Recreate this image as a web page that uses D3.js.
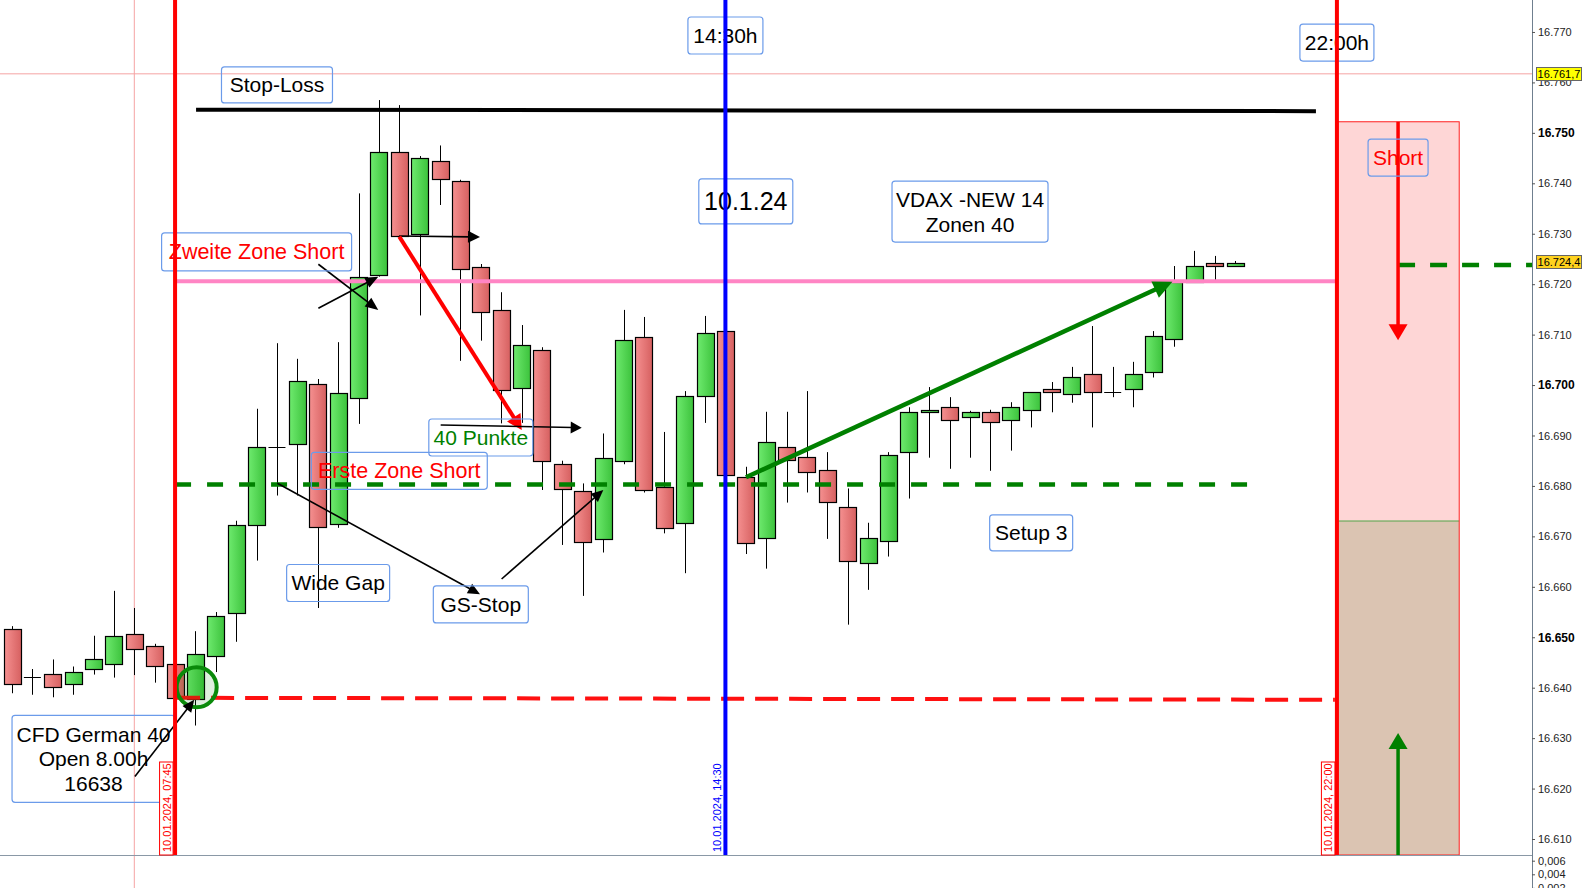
<!DOCTYPE html>
<html><head><meta charset="utf-8">
<script src="https://cdn.jsdelivr.net/npm/d3@7"></script>
<style>html,body{margin:0;padding:0;background:#fff;overflow:hidden}svg{display:block;font-family:"Liberation Sans",Arial,sans-serif}</style>
</head><body><svg id="c" width="1583" height="888"></svg>
<script>
// ---------- DATA ----------
const times = ["05:45","06:00","06:15","06:30","06:45","07:00","07:15","07:30","07:45","08:00",
"08:15","08:30","08:45","09:00","09:15","09:30","09:45","10:00","10:15","10:30",
"10:45","11:00","11:15","11:30","11:45","12:00","12:15","12:30","12:45","13:00",
"13:15","13:30","13:45","14:00","14:15","14:30","14:45","15:00","15:15","15:30",
"15:45","16:00","16:15","16:30","16:45","17:00","17:15","17:30","17:45","18:00",
"18:15","18:30","18:45","19:00","19:15","19:30","19:45","20:00","20:15","20:30","20:45"];
const opens = [16651.6,16642.1,16642.7,16640.7,16643.6,16644.6,16650.6,16648.2,16644.6,16637.8,
16646.2,16654.8,16672.2,16687.7,16688.3,16700.2,16672.4,16697.4,16722.0,16746.3,
16729.9,16744.4,16740.4,16723.4,16714.8,16699.4,16706.9,16684.3,16678.9,16669.5,
16684.9,16709.5,16679.7,16672.6,16697.8,16710.7,16681.7,16669.6,16687.7,16685.7,
16683.1,16675.8,16664.7,16669.0,16686.7,16694.6,16695.6,16693.6,16694.6,16693.0,
16695.0,16699.2,16698.2,16702.1,16698.6,16699.2,16702.5,16709.1,16720.5,16724.1,16723.5];
const highs = [16652.2,16643.7,16645.6,16644.2,16650.3,16659.2,16655.8,16648.7,16645.2,16651.2,
16655.0,16673.1,16695.3,16708.3,16705.2,16701.2,16708.5,16738.0,16756.5,16755.5,
16745.4,16747.5,16740.7,16724.0,16718.4,16711.9,16707.5,16685.0,16680.5,16690.4,
16714.9,16713.5,16690.7,16698.8,16713.7,16710.9,16683.8,16694.7,16694.7,16698.8,
16686.7,16679.5,16672.7,16686.7,16695.6,16699.6,16697.6,16694.9,16695.1,16696.6,
16698.6,16700.6,16703.6,16711.7,16703.6,16704.6,16710.7,16723.6,16726.6,16725.6,16724.6];
const lows = [16638.9,16638.6,16638.1,16638.6,16642.6,16642.0,16642.5,16641.0,16637.5,16632.5,
16643.1,16649.1,16665.2,16678.1,16678.1,16655.8,16671.7,16692.3,16721.5,16729.4,
16713.8,16735.7,16704.8,16708.8,16692.4,16692.5,16679.2,16668.3,16658.2,16666.8,
16684.3,16678.7,16670.6,16662.7,16692.5,16682.0,16666.5,16663.6,16676.7,16678.7,
16669.5,16652.5,16659.4,16666.0,16677.5,16685.6,16683.4,16685.6,16683.0,16687.0,
16691.6,16694.6,16696.5,16691.6,16697.6,16695.6,16701.5,16707.6,16720.4,16720.6,16723.5];
const closes = [16640.7,16642.1,16640.1,16643.1,16645.6,16650.2,16647.6,16644.2,16637.8,16646.7,
16654.2,16672.3,16687.7,16687.7,16700.8,16671.8,16698.4,16721.4,16746.3,16729.6,
16745.0,16740.9,16723.0,16714.4,16699.0,16707.9,16684.9,16679.3,16668.8,16685.5,
16708.9,16679.1,16671.6,16697.8,16710.3,16682.1,16668.6,16688.7,16685.1,16682.7,
16676.8,16665.1,16669.6,16686.1,16694.6,16695.0,16693.0,16694.6,16692.6,16695.6,
16698.6,16698.6,16701.5,16698.6,16698.6,16702.1,16709.7,16720.4,16723.6,16723.5,16724.1];

const priceTicks = [16610,16620,16630,16640,16650,16660,16670,16680,16690,16700,16710,16720,16730,16740,16750,16760,16770];
const boldTicks = [16650,16700,16750];
const subTicks = [0.006,0.004,0.002];
const subTickLabels = ["0,006","0,004","0,002"];

const timeMarkers = [
  {time:"07:45", label:"10.01.2024, 07:45", color:"#ff0000", boxed:true},
  {time:"14:30", label:"10.01.2024, 14:30", color:"#0000ff", boxed:false},
  {time:"22:00", label:"10.01.2024, 22:00", color:"#ff0000", boxed:true}
];
const crossPrice = 16761.7, crossIdx = 6;
const priceTags = [{v:16761.7, text:"16.761,7", fill:"#ffff00"},{v:16724.4, text:"16.724,4", fill:"#ffd21e"}];

const levels = [
  {from:[9.03,16754.6], to:[63.97,16754.3], color:"#000", w:4, dash:null},
  {from:[8,16720.6], to:[65,16720.6], color:"#ff85c4", w:4, dash:null},
  {from:[8,16680.3], to:[60.7,16680.3], color:"#008000", w:4.5, dash:"16,16"},
  {from:[8.1,16638.0], to:[64.9,16637.6], color:"#ff1010", w:4, dash:"23,11"},
  {from:[68,16723.8], to:[74.6,16723.8], color:"#008000", w:4.5, dash:"17,15"}
];
const arrows = [
  {from:[6.03,16622.4], to:[8.94,16637.6], color:"#000", w:1.6, hl:12, hw:11},
  {from:[15.03,16723.95], to:[17.97,16714.88], color:"#000", w:1.6, hl:13, hw:11},
  {from:[15.03,16715.22], to:[17.97,16721.49], color:"#000", w:1.6, hl:13, hw:11},
  {from:[18.99,16729.56], to:[22.96,16729.36], color:"#000", w:1.6, hl:12, hw:12},
  {from:[19.0,16729.42], to:[25.01,16691.09], color:"#ff0000", w:4, hl:15, hw:16},
  {from:[21.03,16692.08], to:[27.95,16691.55], color:"#000", w:1.6, hl:11, hw:12},
  {from:[13.02,16680.53], to:[22.96,16658.52], color:"#000", w:1.6, hl:12, hw:11},
  {from:[24.02,16661.55], to:[29.01,16679.2], color:"#000", w:1.6, hl:12, hw:11},
  {from:[36.01,16681.72], to:[56.93,16720.5], color:"#008000", w:4.5, hl:19, hw:18},
  {from:[68,16752.2], to:[68,16708.9], color:"#ff0000", w:3.5, hl:16, hw:19},
  {from:[68,16606.83], to:[68,16631.0], color:"#008000", w:3.5, hl:16, hw:19}
];
const shortZone = {i0:65.05, i1:71.0, top:16752.2, mid:16673.05};
const circle = {i:9.06, v:16640.1};
const labels = [
  {i:13, v:16759.5, w:111, h:36, lines:["Stop-Loss"], color:"#000", size:21},
  {i:35, v:16769.3, w:75, h:37, lines:["14:30h"], color:"#000", size:21},
  {i:65, v:16767.9, w:74, h:37, lines:["22:00h"], color:"#000", size:21},
  {i:36, v:16736.4, w:94, h:45, lines:["10.1.24"], color:"#000", size:25},
  {i:47, v:16734.4, w:156, h:61, lines:["VDAX -NEW 14","Zonen 40"], color:"#000", size:21},
  {i:12, v:16726.4, w:190, h:38, lines:["Zweite Zone Short"], color:"#ff0000", size:21.5},
  {i:23, v:16689.6, w:104, h:37, lines:["40 Punkte"], color:"#008000", size:21},
  {i:19, v:16683.0, w:176, h:37, lines:["Erste Zone Short"], color:"#ff0000", size:21.5},
  {i:16, v:16660.76, w:103, h:37, lines:["Wide Gap"], color:"#000", size:21},
  {i:23, v:16656.5, w:95, h:37, lines:["GS-Stop"], color:"#000", size:21},
  {i:50, v:16670.7, w:83, h:36, lines:["Setup 3"], color:"#000", size:21},
  {i:4, v:16625.9, w:163, h:87, lines:["CFD German 40","Open 8.00h","16638"], color:"#000", size:21},
  {i:68, v:16745.1, w:60, h:37, lines:["Short"], color:"#ff0000", size:21}
];

// ---------- SETUP ----------
const svg = d3.select("#c");
const W = 1583, H = 888, axisX = 1532, plotB = 855;
const x = d3.scaleLinear().domain([0, times.length - 1]).range([12, 1235]);
const y = d3.scaleLinear().domain([16606.83, 16776.34]).range([plotB, 0]);
const ySub = d3.scaleLinear().domain([0.006, 0.004]).range([860.7, 874.3]);
const toMin = t => { const [h, m] = t.split(":").map(Number); return h * 60 + m; };
const tIdx = t => (toMin(t) - toMin(times[0])) / 15;
const candles = times.map((t, i) => ({t, i, o: opens[i], h: highs[i], l: lows[i], c: closes[i]}));

const defs = svg.append("defs");
function grad(id, c1, c2) {
  const g = defs.append("linearGradient").attr("id", id).attr("x1", "0").attr("x2", "1").attr("y1", "0").attr("y2", "0");
  g.append("stop").attr("offset", "0").attr("stop-color", c1);
  g.append("stop").attr("offset", "1").attr("stop-color", c2);
}
grad("gUp", "#6eea6e", "#3cc23c");
grad("gDn", "#f59090", "#d66060");
defs.append("clipPath").attr("id", "plotClip").append("rect").attr("x", 0).attr("y", 0).attr("width", axisX).attr("height", plotB);

svg.append("rect").attr("width", W).attr("height", H).attr("fill", "#fff");

// short zone
const z = svg.append("g");
z.append("rect").attr("x", x(shortZone.i0)).attr("y", y(shortZone.top))
  .attr("width", x(shortZone.i1) - x(shortZone.i0)).attr("height", y(shortZone.mid) - y(shortZone.top))
  .attr("fill", "#fed6d6");
z.append("rect").attr("x", x(shortZone.i0)).attr("y", y(shortZone.mid))
  .attr("width", x(shortZone.i1) - x(shortZone.i0)).attr("height", plotB - y(shortZone.mid))
  .attr("fill", "#dbc4b2");
z.append("line").attr("x1", x(shortZone.i0)).attr("x2", x(shortZone.i1)).attr("y1", y(shortZone.mid)).attr("y2", y(shortZone.mid))
  .attr("stroke", "#2a9a2a").attr("stroke-width", 0.8);
z.append("rect").attr("x", x(shortZone.i0)).attr("y", y(shortZone.top))
  .attr("width", x(shortZone.i1) - x(shortZone.i0)).attr("height", plotB - y(shortZone.top))
  .attr("fill", "none").attr("stroke", "#ff2020").attr("stroke-width", 1);

// crosshair
svg.append("line").attr("x1", 0).attr("x2", axisX).attr("y1", y(crossPrice)).attr("y2", y(crossPrice))
  .attr("stroke", "#f5a3a3").attr("stroke-width", 1);
svg.append("line").attr("x1", x(crossIdx)).attr("x2", x(crossIdx)).attr("y1", 0).attr("y2", H)
  .attr("stroke", "#f5a3a3").attr("stroke-width", 1);

// bottom separator
svg.append("line").attr("x1", 0).attr("x2", axisX).attr("y1", plotB + 0.5).attr("y2", plotB + 0.5)
  .attr("stroke", "#8a98a6").attr("stroke-width", 1);

// candles
const bw = 17;
const cg = svg.append("g").attr("clip-path", "url(#plotClip)");
const cs = cg.selectAll("g.c").data(candles).join("g");
cs.append("line").attr("x1", d => Math.round(x(d.i)) + 0.5).attr("x2", d => Math.round(x(d.i)) + 0.5)
  .attr("y1", d => y(d.h)).attr("y2", d => y(d.l)).attr("stroke", "#000").attr("stroke-width", 1);
cs.filter(d => d.o !== d.c).append("rect")
  .attr("x", d => Math.round(x(d.i) - bw / 2) + 0.5)
  .attr("y", d => Math.round(y(Math.max(d.o, d.c))) + 0.5)
  .attr("width", bw)
  .attr("height", d => Math.max(2, Math.round(Math.abs(y(d.o) - y(d.c)))))
  .attr("fill", d => d.c > d.o ? "url(#gUp)" : "url(#gDn)")
  .attr("stroke", "#000").attr("stroke-width", 1.2);
cs.filter(d => d.o === d.c).append("line")
  .attr("x1", d => x(d.i) - bw / 2).attr("x2", d => x(d.i) + bw / 2)
  .attr("y1", d => Math.round(y(d.o)) + 0.5).attr("y2", d => Math.round(y(d.o)) + 0.5)
  .attr("stroke", "#000").attr("stroke-width", 1);

// levels
const lg = svg.append("g");
levels.forEach(L => {
  const ln = lg.append("line").attr("x1", x(L.from[0])).attr("y1", y(L.from[1]))
    .attr("x2", Math.min(axisX, x(L.to[0]))).attr("y2", y(L.to[1]))
    .attr("stroke", L.color).attr("stroke-width", L.w);
  if (L.dash) ln.attr("stroke-dasharray", L.dash);
});

// circle
svg.append("circle").attr("cx", x(circle.i)).attr("cy", y(circle.v)).attr("r", 20)
  .attr("fill", "rgba(0,128,0,0.13)").attr("stroke", "#0a8a0a").attr("stroke-width", 4);

// arrows
const ag = svg.append("g");
arrows.forEach(a => {
  const x1 = x(a.from[0]), y1 = y(a.from[1]), x2 = x(a.to[0]), y2 = y(a.to[1]);
  const dx = x2 - x1, dy = y2 - y1, Ln = Math.hypot(dx, dy), ux = dx / Ln, uy = dy / Ln;
  const bx = x2 - ux * a.hl, by = y2 - uy * a.hl;
  ag.append("line").attr("x1", x1).attr("y1", y1).attr("x2", bx + ux * 2).attr("y2", by + uy * 2)
    .attr("stroke", a.color).attr("stroke-width", a.w);
  ag.append("path").attr("d", `M${x2},${y2}L${bx - uy * a.hw / 2},${by + ux * a.hw / 2}L${bx + uy * a.hw / 2},${by - ux * a.hw / 2}Z`)
    .attr("fill", a.color);
});

// label boxes
const bg = svg.append("g");
labels.forEach(L => {
  const cx = x(L.i), cy = y(L.v);
  bg.append("rect").attr("x", cx - L.w / 2).attr("y", cy - L.h / 2).attr("width", L.w).attr("height", L.h)
    .attr("rx", 3).attr("fill", "none").attr("stroke", "#6b9bea").attr("stroke-width", 1.2);
  const n = L.lines.length, lh = n === 3 ? 24.5 : 25;
  L.lines.forEach((s, k) => {
    bg.append("text").attr("x", cx).attr("y", cy + (k - (n - 1) / 2) * lh)
      .attr("text-anchor", "middle").attr("dominant-baseline", "central")
      .attr("font-size", L.size).attr("fill", L.color).text(s);
  });
});

// vertical time markers
const vg = svg.append("g");
timeMarkers.forEach(m => {
  const xm = x(tIdx(m.time));
  vg.append("line").attr("x1", xm).attr("x2", xm).attr("y1", 0).attr("y2", plotB)
    .attr("stroke", m.color).attr("stroke-width", 4);
  const tx = xm - 8.5;
  if (m.boxed) {
    vg.append("rect").attr("x", xm - 15.5).attr("y", 762).attr("width", 13.5).attr("height", plotB - 762)
      .attr("fill", "#fff").attr("stroke", m.color).attr("stroke-width", 1);
  }
  vg.append("text").attr("transform", `translate(${tx},${plotB - 3}) rotate(-90)`)
    .attr("dominant-baseline", "central").attr("font-size", 11).attr("fill", m.color).text(m.label);
});

// right axis
const ax = svg.append("g").attr("transform", `translate(${axisX},0)`);
ax.append("line").attr("x1", 0.5).attr("x2", 0.5).attr("y1", 0).attr("y2", H).attr("stroke", "#6f7f8f").attr("stroke-width", 1);
const fmt = d => d3.format(",")(d).replace(",", ".");
const yAxis = d3.axisRight(y).tickValues(priceTicks).tickSize(3).tickPadding(3).tickFormat(fmt);
const ga = ax.append("g").call(yAxis);
ga.select(".domain").remove();
ga.selectAll(".tick line").attr("stroke", "#555");
ga.selectAll(".tick text").attr("font-family", "Liberation Sans, Arial, sans-serif")
  .attr("font-size", d => boldTicks.includes(d) ? 12 : 11)
  .attr("font-weight", d => boldTicks.includes(d) ? "bold" : "normal")
  .attr("fill", d => boldTicks.includes(d) ? "#000" : "#222");
const subAxis = d3.axisRight(ySub).tickValues(subTicks).tickSize(3).tickPadding(3).tickFormat((d, i) => subTickLabels[i]);
const gs = ax.append("g").call(subAxis);
gs.select(".domain").remove();
gs.selectAll(".tick line").attr("stroke", "#555");
gs.selectAll(".tick text").attr("font-family", "Liberation Sans, Arial, sans-serif").attr("font-size", 11).attr("fill", "#222");

// price tags
priceTags.forEach(p => {
  const yy = y(p.v);
  ax.append("rect").attr("x", 4.5).attr("y", Math.round(yy - 6.5) + 0.5).attr("width", 45).attr("height", 13)
    .attr("fill", p.fill).attr("stroke", "#666").attr("stroke-width", 1);
  ax.append("text").attr("x", 27).attr("y", yy + 0.5).attr("text-anchor", "middle").attr("dominant-baseline", "central")
    .attr("font-size", 11).attr("fill", "#000").text(p.text);
});
</script></body></html>
